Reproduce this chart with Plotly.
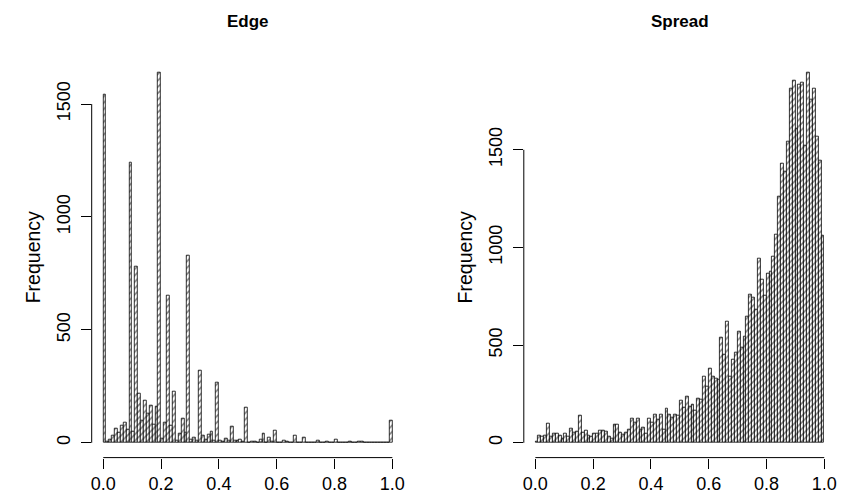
import plotly.graph_objects as go

# ---------------- data ----------------
bin_width = 0.01
bin_lefts = [round(i * bin_width, 2) for i in range(100)]

edge_counts = [
    1540, 5, 15, 30, 65, 45, 75, 90, 60, 1240,
    50, 780, 220, 100, 185, 130, 165, 80, 160, 1640,
    20, 90, 650, 75, 225, 10, 40, 105, 45, 830,
    15, 25, 10, 320, 30, 15, 35, 50, 10, 265,
    10, 5, 20, 10, 70, 10, 10, 12, 5, 158,
    3, 5, 5, 3, 12, 42, 3, 22, 5, 53,
    3, 2, 10, 7, 2, 2, 31, 3, 2, 22,
    2, 3, 1, 1, 10, 1, 1, 7, 1, 1,
    12, 1, 0, 1, 0, 5, 3, 1, 5, 7,
    1, 0, 1, 0, 0, 1, 0, 0, 1, 98,
]

spread_counts = [
    5, 39, 31, 36, 99, 31, 48, 45, 39, 22,
    48, 34, 72, 54, 57, 138, 54, 61, 36, 31,
    45, 48, 60, 60, 57, 34, 22, 93, 91, 52,
    43, 52, 68, 122, 104, 122, 65, 77, 47, 125,
    104, 142, 117, 146, 70, 174, 146, 129, 146, 139,
    215, 180, 237, 185, 197, 166, 228, 219, 340, 289,
    382, 340, 329, 323, 537, 454, 619, 340, 427, 460,
    568, 488, 546, 644, 757, 741, 683, 942, 834, 752,
    867, 878, 953, 1066, 1258, 1431, 1387, 1541, 1814, 1853,
    1609, 1833, 1843, 1521, 1896, 1755, 1814, 1570, 1443, 1063,
]

titles = ["Edge", "Spread"]
x_ticks = [0.0, 0.2, 0.4, 0.6, 0.8, 1.0]
x_tick_labels = ["0.0", "0.2", "0.4", "0.6", "0.8", "1.0"]
edge_y_ticks = [0, 500, 1000, 1500]
spread_y_ticks = [0, 500, 1000, 1500]
y_label = "Frequency"

# ---------------- figure ----------------
W, H = 843, 500
FONT = "Liberation Sans, Arial, Helvetica, sans-serif"

panels = [
    dict(counts=edge_counts, yticks=edge_y_ticks, title=titles[0],
         xdom=[91.7 / W, 403.9 / W]),
    dict(counts=spread_counts, yticks=spread_y_ticks, title=titles[1],
         xdom=[523.8 / W, 835.8 / W]),
]
ydom = [1 - 457.6 / H, 1 - 57.6 / H]

fig = go.Figure()
shapes = []
annotations = []
layout_axes = {}

for k, p in enumerate(panels, start=1):
    xa = "x" if k == 1 else f"x{k}"
    ya = "y" if k == 1 else f"y{k}"
    centers = [l + bin_width / 2 for l in bin_lefts]
    fig.add_trace(go.Bar(
        x=centers, y=p["counts"], width=bin_width,
        xaxis=xa, yaxis=ya,
        marker=dict(
            color="white",
            line=dict(color="black", width=0.8),
            pattern=dict(shape="/", fgcolor="black", bgcolor="white",
                         size=4.5, solidity=0.33),
        ),
        showlegend=False, hoverinfo="x+y",
    ))
    ymax = max(p["counts"])
    xr = [-0.04, 1.04]
    yr = [-0.04 * ymax, 1.04 * ymax]
    axis_common = dict(
        showgrid=False, zeroline=False, showline=False,
        ticks="outside", ticklen=10, tickwidth=1, tickcolor="black",
        tickfont=dict(family=FONT, size=18, color="black"),
        automargin=False,
    )
    layout_axes["xaxis" if k == 1 else f"xaxis{k}"] = dict(
        domain=p["xdom"], range=xr, anchor=ya,
        tickvals=x_ticks, ticktext=x_tick_labels,
        ticklabelstandoff=0, **axis_common)
    layout_axes["yaxis" if k == 1 else f"yaxis{k}"] = dict(
        domain=ydom, range=yr, anchor=xa,
        tickvals=p["yticks"], ticktext=[str(v) for v in p["yticks"]],
        tickangle=-90, ticklabelstandoff=4, **axis_common)

    # R-style axis lines spanning only the tick range
    shapes.append(dict(type="line", xref=f"{xa} domain", yref=ya,
                       x0=0, x1=0, y0=min(p["yticks"]), y1=max(p["yticks"]),
                       line=dict(color="black", width=1)))
    shapes.append(dict(type="line", xref=xa, yref=f"{ya} domain",
                       x0=min(x_ticks), x1=max(x_ticks), y0=0, y1=0,
                       line=dict(color="black", width=1)))

    xmid = (p["xdom"][0] + p["xdom"][1]) / 2
    annotations.append(dict(
        text=f"<b>{p['title']}</b>", x=xmid, y=1 - 21 / H,
        xref="paper", yref="paper", showarrow=False,
        xanchor="center", yanchor="middle",
        font=dict(family=FONT, size=17, color="black")))
    annotations.append(dict(
        text=y_label, x=(p["xdom"][0] * W - 59) / W, y=(ydom[0] + ydom[1]) / 2,
        xref="paper", yref="paper", showarrow=False, textangle=-90,
        xanchor="center", yanchor="middle",
        font=dict(family=FONT, size=19.5, color="black")))

fig.update_layout(
    width=W, height=H,
    margin=dict(l=0, r=0, t=0, b=0),
    paper_bgcolor="white", plot_bgcolor="white",
    bargap=0,
    shapes=shapes, annotations=annotations,
    **layout_axes,
)

fig.write_html("out.html", include_plotlyjs=True,
               config={"displayModeBar": False})
